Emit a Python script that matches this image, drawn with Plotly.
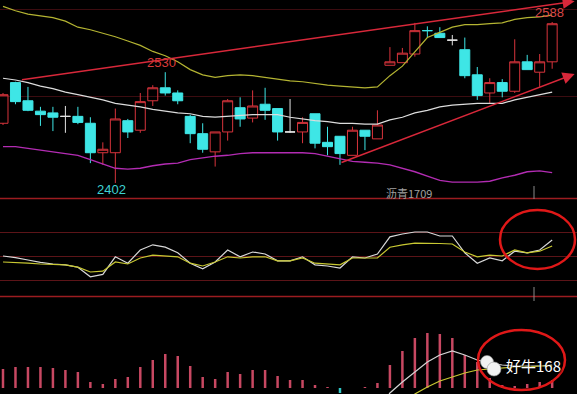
import plotly.graph_objects as go

# ---------------- data ----------------
idx = list(range(45))

open_ = [2471, 2518, 2497, 2485, 2483, 2479, 2479, 2471, 2437, 2437, 2474, 2463, 2497, 2512, 2506,
         2479, 2459, 2438, 2461, 2489, 2477, 2493, 2488, 2461, 2461, 2482, 2449, 2456, 2434, 2463,
         2453, 2538, 2541, 2551, 2578, 2575, 2567, 2556, 2527, 2506, 2518, 2508, 2542, 2530, 2542]
close = [2504, 2496, 2486, 2481, 2478, 2479, 2472, 2437, 2441, 2476, 2461, 2496, 2512, 2506, 2497,
         2459, 2441, 2461, 2497, 2476, 2491, 2486, 2461, 2461, 2472, 2448, 2444, 2436, 2463, 2456,
         2469, 2542, 2552, 2578, 2578, 2570, 2567, 2526, 2503, 2518, 2508, 2542, 2533, 2542, 2586]
high = [2506, 2519, 2513, 2490, 2490, 2491, 2490, 2478, 2449, 2488, 2476, 2506, 2515, 2530, 2509,
        2481, 2471, 2461, 2499, 2501, 2509, 2512, 2488, 2499, 2478, 2482, 2467, 2456, 2467, 2463,
        2486, 2559, 2558, 2587, 2583, 2582, 2573, 2570, 2536, 2523, 2522, 2568, 2550, 2551, 2588]
low = [2469, 2493, 2485, 2468, 2462, 2460, 2470, 2425, 2423, 2402, 2454, 2460, 2491, 2503, 2493,
       2448, 2437, 2421, 2451, 2467, 2472, 2475, 2451, 2460, 2448, 2442, 2434, 2423, 2434, 2440,
       2453, 2538, 2541, 2548, 2570, 2570, 2561, 2523, 2498, 2494, 2501, 2506, 2533, 2513, 2534]
flat_cyan_idx = [34]   # doji drawn in the "down" colour

band_upper = [2606, 2601, 2597, 2595, 2593, 2589, 2582, 2579, 2575, 2571, 2566, 2561, 2554, 2549, 2542,
              2533, 2527, 2524, 2526, 2527, 2526, 2524, 2522, 2520, 2519, 2517, 2515, 2514, 2513, 2512,
              2513, 2526, 2537, 2553, 2570, 2576, 2582, 2585, 2585, 2586, 2587, 2591, 2593, 2594, 2596]
band_mid = [2523, 2521, 2518, 2514, 2511, 2507, 2504, 2501, 2498, 2494, 2492, 2490, 2487, 2485, 2483,
            2482, 2479, 2478, 2479, 2480, 2481, 2481, 2481, 2478, 2476, 2474, 2473, 2471, 2471, 2470,
            2470, 2475, 2478, 2483, 2486, 2490, 2492, 2493, 2494, 2494, 2494, 2498, 2501, 2504, 2507]
band_lower = [2444, 2444, 2442, 2440, 2438, 2436, 2434, 2429, 2424, 2419, 2418, 2419, 2422, 2424, 2425,
              2429, 2431, 2433, 2434, 2436, 2437, 2437, 2437, 2437, 2437, 2436, 2433, 2430, 2427, 2426,
              2425, 2423, 2419, 2415, 2410, 2405, 2403, 2403, 2403, 2404, 2408, 2411, 2415, 2416, 2414]

kdj_k = [50, 48, 45, 42, 40, 39, 36, 24, 27, 49, 41, 57.5, 64, 61, 54, 41, 34, 42.5, 57.5, 49,
         55, 52.5, 44, 44, 49, 39, 37.5, 35, 49, 47.5, 52.5, 74, 77.5, 80, 80, 75, 75, 54, 41, 47.5,
         44, 56, 54, 57.5, 70]
kdj_d = [42.5, 42, 41, 40, 39.4, 39, 36, 30, 31, 42.5, 40, 47.5, 51, 50, 49, 41, 37.5, 42.5, 49, 47.5,
         49, 49, 44, 44, 47.5, 41, 40, 39, 47.5, 47.5, 47.5, 61, 64, 66, 66, 65.6, 65, 55, 49, 51,
         50, 57.5, 54, 56, 62.5]

macd_hist = [19, 21, 21, 21, 20, 18, 16, 6, 4, 9, 11, 21, 28, 34, 32, 22, 11, 9, 16, 14,
             18, 18, 12, 8, 8, 3, 1, -5, 0, 1, 5, 23, 37, 50, 55, 54, 50, 33, 26, 10,
             3, 2, 4, 6, 8]
macd_dif = [None] * 30 + [-25, -5, 6, 16, 26, 33, 37, 33, 28, 25, 23, 22, 22, 22, 23]
macd_dea = [None] * 32 + [-20, -6, 1, 7, 11, 15, 18, 19, 20, 21, 21, 22, 22]

trend_up_x = [1.4, 45.8]
trend_up_y = [2521, 2612]
trend_lo_x = [27.0, 45.8]
trend_lo_y = [2425, 2528]

label_high1 = "2530"
label_low = "2402"
label_high2 = "2588"
label_name = "沥青1709"
logo_text = "好牛168"

for arr in (open_, close, high, low, band_upper, band_mid, band_lower, kdj_k, kdj_d,
            macd_hist, macd_dif, macd_dea):
    assert len(arr) == len(idx)

# ---------------- style ----------------
RED = "#d8343c"
CYAN = "#3ee6e6"
WHITE = "#e4e4e4"
BG = "#000000"

fig = go.Figure()

# Bollinger-like lines
fig.add_trace(go.Scatter(x=idx, y=band_upper, mode="lines", line=dict(color="#b4b432", width=1.2),
                         hoverinfo="skip", xaxis="x", yaxis="y"))
fig.add_trace(go.Scatter(x=idx, y=band_lower, mode="lines", line=dict(color="#b32cb3", width=1.4),
                         hoverinfo="skip", xaxis="x", yaxis="y"))


def candles(ids, line_col, fill_col):
    return go.Candlestick(
        x=[idx[i] for i in ids], open=[open_[i] for i in ids], high=[high[i] for i in ids],
        low=[low[i] for i in ids], close=[close[i] for i in ids],
        increasing=dict(line=dict(color=line_col, width=1), fillcolor=fill_col),
        decreasing=dict(line=dict(color=line_col, width=1), fillcolor=fill_col),
        whiskerwidth=0, xaxis="x", yaxis="y", hoverinfo="skip")


up_ids = [i for i in idx if close[i] > open_[i]]
down_ids = [i for i in idx if close[i] < open_[i]]
flat_w = [i for i in idx if close[i] == open_[i] and i not in flat_cyan_idx]
flat_c = [i for i in idx if close[i] == open_[i] and i in flat_cyan_idx]

fig.add_trace(candles(up_ids, RED, "rgba(0,0,0,0)"))
fig.add_trace(candles(down_ids, CYAN, CYAN))
fig.add_trace(candles(flat_w, WHITE, WHITE))
fig.add_trace(candles(flat_c, CYAN, CYAN))

fig.add_trace(go.Scatter(x=idx, y=band_mid, mode="lines", line=dict(color="#dcdcdc", width=1.2),
                         hoverinfo="skip", xaxis="x", yaxis="y"))

# KDJ panel
fig.add_trace(go.Scatter(x=idx, y=kdj_k, mode="lines", line=dict(color="#d8d8d8", width=1.2),
                         hoverinfo="skip", xaxis="x", yaxis="y2"))
fig.add_trace(go.Scatter(x=idx, y=kdj_d, mode="lines", line=dict(color="#c8c832", width=1.2),
                         hoverinfo="skip", xaxis="x", yaxis="y2"))

# MACD panel
fig.add_trace(go.Bar(x=idx, y=macd_hist, width=0.2,
                     marker=dict(color=["#c84862" if v >= 0 else "#30c8c8" for v in macd_hist],
                                 line=dict(width=0)),
                     hoverinfo="skip", xaxis="x", yaxis="y3"))
fig.add_trace(go.Scatter(x=idx, y=macd_dif, mode="lines", line=dict(color="#d4d4d4", width=1.2),
                         hoverinfo="skip", xaxis="x", yaxis="y3"))
fig.add_trace(go.Scatter(x=idx, y=macd_dea, mode="lines", line=dict(color="#c8c832", width=1.2),
                         hoverinfo="skip", xaxis="x", yaxis="y3"))

W, H = 577, 394


def px(x):
    return x / W


def py(y):
    return 1 - y / H


shapes = []
border = "#9c1c20"
for yy in (198.5, 296.5):
    shapes.append(dict(type="line", xref="paper", yref="paper", x0=0, x1=1, y0=py(yy), y1=py(yy),
                       line=dict(color=border, width=1.5), layer="above"))
# cursor ticks
for (y0, y1) in ((186, 199), (287, 301)):
    shapes.append(dict(type="line", xref="paper", yref="paper", x0=px(534), x1=px(534),
                       y0=py(y0), y1=py(y1), line=dict(color="#8a8a8a", width=1)))
# highlight ellipses
shapes.append(dict(type="circle", xref="paper", yref="paper", x0=px(500), x1=px(575),
                   y0=py(269), y1=py(210), line=dict(color="#e01818", width=2.5)))
shapes.append(dict(type="circle", xref="paper", yref="paper", x0=px(478), x1=px(565),
                   y0=py(390), y1=py(330), line=dict(color="#e01818", width=2.5)))
# wechat-like bubbles
shapes.append(dict(type="circle", xref="paper", yref="paper", x0=px(480.5), x1=px(493.5),
                   y0=py(368.5), y1=py(355.5), fillcolor="#f2f2f2", line=dict(color="#999", width=0.6)))
shapes.append(dict(type="circle", xref="paper", yref="paper", x0=px(487), x1=px(501),
                   y0=py(376), y1=py(362), fillcolor="#f2f2f2", line=dict(color="#999", width=0.6)))

annotations = [
    dict(x=trend_up_x[1], y=trend_up_y[1], ax=trend_up_x[0], ay=trend_up_y[0], xref="x", yref="y",
         axref="x", ayref="y", text="", showarrow=True, arrowhead=2, arrowsize=1.6, arrowwidth=1.5,
         arrowcolor="#d8283a", standoff=0),
    dict(x=trend_lo_x[1], y=trend_lo_y[1], ax=trend_lo_x[0], ay=trend_lo_y[0], xref="x", yref="y",
         axref="x", ayref="y", text="", showarrow=True, arrowhead=2, arrowsize=1.6, arrowwidth=1.5,
         arrowcolor="#d8283a", standoff=0),
    dict(x=12.7, y=2541, xref="x", yref="y", text=label_high1, showarrow=False,
         font=dict(family="Liberation Sans, Arial", size=13, color="#d83a3a")),
    dict(x=8.7, y=2395, xref="x", yref="y", text=label_low, showarrow=False,
         font=dict(family="Liberation Sans, Arial", size=13, color="#3ed2d2")),
    dict(x=43.8, y=2599, xref="x", yref="y", text=label_high2, showarrow=False,
         font=dict(family="Liberation Sans, Arial", size=13, color="#d84848")),
    dict(x=32.5, y=2391, xref="x", yref="y", text=label_name, showarrow=False,
         font=dict(family="Noto Sans CJK SC", size=11, color="#a0a0a0")),
    dict(x=px(533), y=py(365), xref="paper", yref="paper", text=logo_text, showarrow=False,
         font=dict(family="Noto Sans CJK SC", size=15, color="#ffffff", shadow="1px 1px 2px #000"),
         xanchor="center", yanchor="middle"),
]

axis_common = dict(showticklabels=False, zeroline=False, showline=False, ticks="", fixedrange=True)

fig.update_layout(
    width=W, height=H, margin=dict(l=0, r=0, t=0, b=0, pad=0),
    paper_bgcolor=BG, plot_bgcolor=BG, showlegend=False, boxgap=0.2, boxgroupgap=0,
    xaxis=dict(domain=[0, 1], range=[-0.24, 45.99], showgrid=False, rangeslider=dict(visible=False),
               **axis_common),
    yaxis=dict(domain=[py(198), 1], range=[2384.7, 2613.4], tickvals=[2502, 2602], showgrid=True,
               gridcolor="#3c0c10", gridwidth=1, **axis_common),
    yaxis2=dict(domain=[py(296), py(198)], range=[0, 122.5], tickvals=[20, 50, 80], showgrid=True,
                gridcolor="#5c1418", gridwidth=1, **axis_common),
    yaxis3=dict(domain=[0, py(296)], range=[-6, 92], showgrid=False, **axis_common),
    shapes=shapes, annotations=annotations,
)

fig.write_html("out.html")
